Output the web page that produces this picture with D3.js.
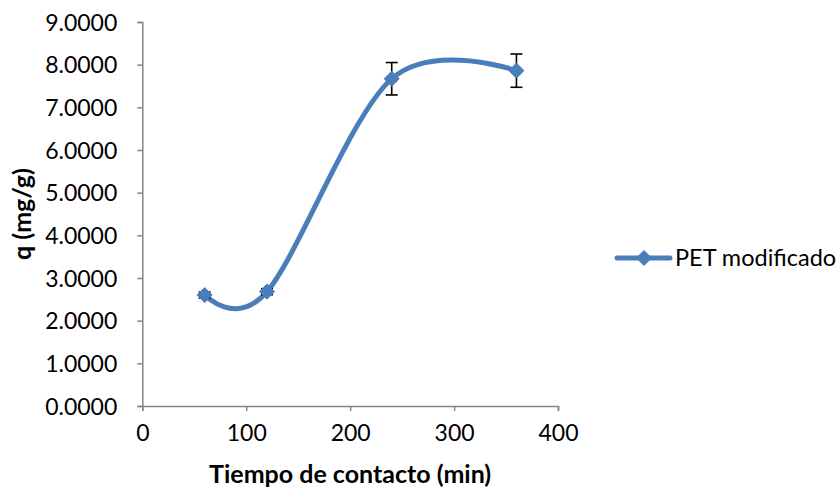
<!DOCTYPE html>
<html>
<head>
<meta charset="utf-8">
<script src="https://cdn.jsdelivr.net/npm/d3@7/dist/d3.min.js"></script>
<style>
  html, body { margin: 0; padding: 0; background: #fff; }
  svg { display: block; }
  text { font-family: Lato, "Open Sans", sans-serif; fill: #000; }
</style>
</head>
<body>
<svg id="chart" width="838" height="490"></svg>
<script>
// Contact time (min) vs adsorbed amount q (mg/g)
const times = [60, 120, 240, 360];
const qValues = [2.60, 2.68, 7.67, 7.86];
const qErrors = [0.07, 0.07, 0.38, 0.39];
const seriesName = "PET modificado";
const xTicks = [0, 100, 200, 300, 400];
const yTicks = [0, 1, 2, 3, 4, 5, 6, 7, 8, 9];

const svg = d3.select("#chart");
const blue = "#4a7ebb";
const axisGrey = "#868686";

const x = d3.scaleLinear().domain([0, 400]).range([142.3, 558]);
const y = d3.scaleLinear().domain([0, 9]).range([406, 22]);

// Y axis
const yAxis = svg.append("g").attr("transform", `translate(${x(0)},0)`)
  .call(d3.axisLeft(y).tickValues(yTicks).tickSize(5).tickPadding(20)
    .tickFormat(d3.format(".4f")));
yAxis.select(".domain").attr("stroke", axisGrey).attr("stroke-width", 1.5);
yAxis.selectAll(".tick line").attr("stroke", axisGrey).attr("stroke-width", 1.5);
yAxis.selectAll(".tick text").attr("font-size", 23).attr("font-family", "Lato, sans-serif")
  .attr("fill", "#000").attr("dy", "0.36em");

// X axis
const xAxis = svg.append("g").attr("transform", `translate(0,${y(0)})`)
  .call(d3.axisBottom(x).tickValues(xTicks).tickSize(5).tickPadding(14)
    .tickFormat(d3.format("d")));
xAxis.select(".domain").attr("stroke", axisGrey).attr("stroke-width", 1.5);
xAxis.selectAll(".tick line").attr("stroke", axisGrey).attr("stroke-width", 1.5);
xAxis.selectAll(".tick text").attr("font-size", 23).attr("font-family", "Lato, sans-serif")
  .attr("fill", "#000");

// Axis titles
svg.append("text")
  .attr("x", x(200)).attr("y", 483)
  .attr("text-anchor", "middle")
  .attr("font-size", 25).attr("font-weight", "bold")
  .text("Tiempo de contacto (min)");

svg.append("text")
  .attr("transform", `translate(31,${y(4.5)}) rotate(-90)`)
  .attr("text-anchor", "middle")
  .attr("font-size", 25).attr("font-weight", "bold")
  .text("q (mg/g)");

const pts = times.map((t, i) => ({ t, q: qValues[i], e: qErrors[i] }));

// Smoothed series line
const line = d3.line()
  .x(d => x(d.t)).y(d => y(d.q))
  .curve(d3.curveCardinal.tension(0));
svg.append("path").datum(pts)
  .attr("d", line)
  .attr("fill", "none")
  .attr("stroke", blue)
  .attr("stroke-width", 5)
  .attr("stroke-linecap", "round");

// Error bars
const eb = svg.append("g").attr("stroke", "#000").attr("stroke-width", 1.6);
pts.forEach(d => {
  const cx = x(d.t);
  eb.append("line").attr("x1", cx).attr("x2", cx).attr("y1", y(d.q + d.e)).attr("y2", y(d.q - d.e));
  eb.append("line").attr("x1", cx - 6).attr("x2", cx + 6).attr("y1", y(d.q + d.e)).attr("y2", y(d.q + d.e));
  eb.append("line").attr("x1", cx - 6).attr("x2", cx + 6).attr("y1", y(d.q - d.e)).attr("y2", y(d.q - d.e));
});

// Diamond markers
const diamond = d3.symbol().type(d3.symbolDiamond2).size(145);
svg.append("g").selectAll("path").data(pts).join("path")
  .attr("d", diamond)
  .attr("transform", d => `translate(${x(d.t)},${y(d.q)})`)
  .attr("fill", blue)
  .attr("stroke", blue)
  .attr("stroke-width", 1);

// Legend
const lg = svg.append("g").attr("transform", "translate(617,258)");
lg.append("line").attr("x1", 0).attr("x2", 53).attr("y1", 0).attr("y2", 0)
  .attr("stroke", blue).attr("stroke-width", 5).attr("stroke-linecap", "round");
lg.append("path").attr("d", diamond).attr("transform", "translate(27,0)")
  .attr("fill", blue).attr("stroke", blue);
lg.append("text").attr("x", 58).attr("y", 0).attr("dy", "0.36em")
  .attr("font-size", 23.5).text(seriesName);
</script>
</body>
</html>
